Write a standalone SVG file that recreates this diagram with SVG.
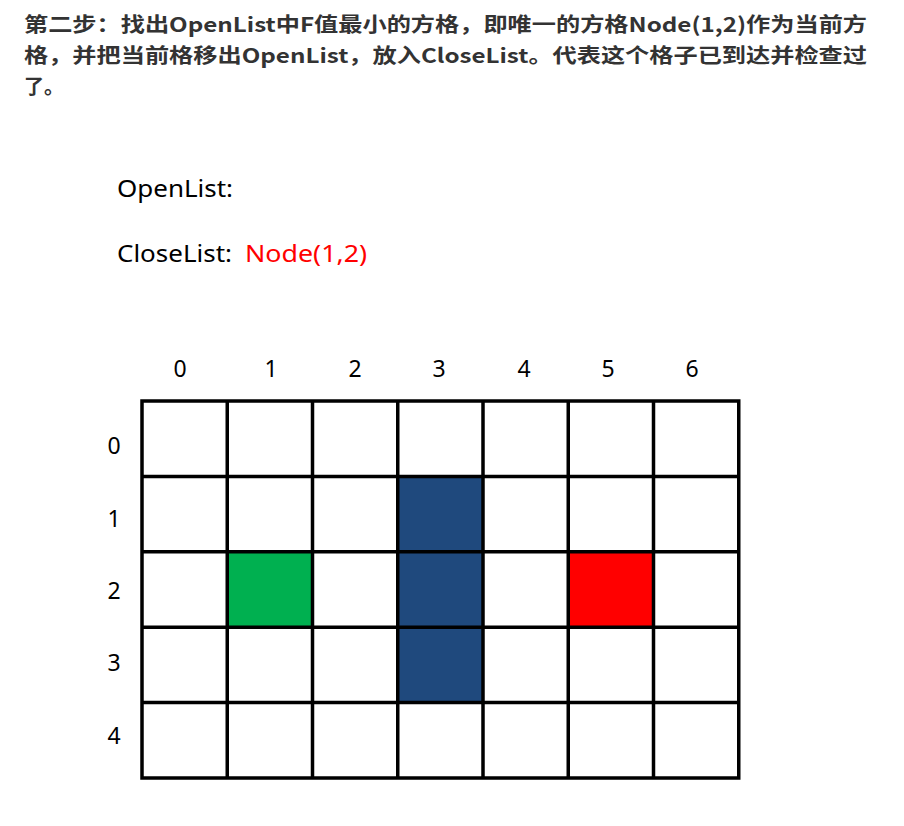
<svg xmlns="http://www.w3.org/2000/svg" width="904" height="826" viewBox="0 0 904 826">
<style>
.title{font-family:"Noto Sans CJK SC","Noto Sans",sans-serif;font-weight:bold;font-size:20px;fill:#333333}
.lbl{font-family:"Noto Sans","Open Sans",sans-serif;font-size:24px;fill:#000}
.num{font-family:"Noto Sans","Open Sans",sans-serif;font-size:23px;fill:#000;text-anchor:middle}
.grid{stroke:#000;stroke-width:3.5;fill:none}
</style>
<rect width="904" height="826" fill="#fff"/>
<g id="title">
<text class="title" x="24" y="32" textLength="843" lengthAdjust="spacingAndGlyphs">第二步：找出OpenList中F值最小的方格，即唯一的方格Node(1,2)作为当前方</text>
<text class="title" x="24" y="63" textLength="843" lengthAdjust="spacingAndGlyphs">格，并把当前格移出OpenList，放入CloseList。代表这个格子已到达并检查过</text>
<text class="title" x="24" y="94">了。</text>
</g>
<g id="lists">
<text class="lbl" x="117" y="197" textLength="116" lengthAdjust="spacingAndGlyphs">OpenList:</text>
<text class="lbl" x="117" y="262" textLength="115" lengthAdjust="spacingAndGlyphs">CloseList:</text>
<text class="lbl" x="245" y="262" fill="#ff0000" style="fill:#ff0000" textLength="122" lengthAdjust="spacingAndGlyphs">Node(1,2)</text>
</g>
<g id="col-labels">
<text class="num" x="180" y="377">0</text>
<text class="num" x="271" y="377">1</text>
<text class="num" x="355" y="377">2</text>
<text class="num" x="439" y="377">3</text>
<text class="num" x="524" y="377">4</text>
<text class="num" x="608" y="377">5</text>
<text class="num" x="692" y="377">6</text>
</g>
<g id="row-labels">
<text class="num" x="114" y="454">0</text>
<text class="num" x="114" y="527">1</text>
<text class="num" x="114" y="599">2</text>
<text class="num" x="114" y="671">3</text>
<text class="num" x="114" y="744">4</text>
</g>
<g id="obstacle">
<rect x="397.75" y="476.4" width="85.25" height="226.2" fill="#1f497d"/>
</g>
<g id="start-node">
<rect x="227.25" y="551.8" width="85.25" height="75.4" fill="#00b050"/>
</g>
<g id="end-node">
<rect x="568.25" y="551.8" width="85.25" height="75.4" fill="#ff0000"/>
</g>
<g id="grid-lines" class="grid">
<rect x="142" y="401" width="596.75" height="377"/>
<path d="M227.25 401V778M312.5 401V778M397.75 401V778M483 401V778M568.25 401V778M653.5 401V778"/>
<path d="M142 476.4H738.75M142 551.8H738.75M142 627.2H738.75M142 702.6H738.75"/>
</g>
</svg>
